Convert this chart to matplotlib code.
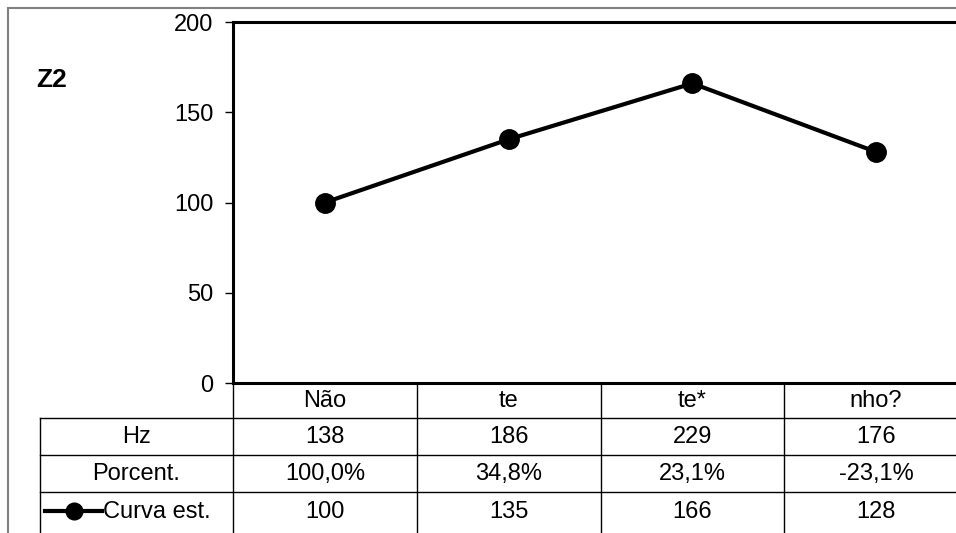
import matplotlib.pyplot as plt
from matplotlib.lines import Line2D
from matplotlib.patches import Rectangle
from matplotlib.transforms import blended_transform_factory

plt.rcParams['font.family'] = ['Liberation Sans', 'DejaVu Sans']

# data
categories = ['Não', 'te', 'te*', 'nho?']
hz = ['138', '186', '229', '176']
porcent = ['100,0%', '34,8%', '23,1%', '-23,1%']
curva = [100, 135, 166, 128]
row_labels = ['Hz', 'Porcent.', 'Curva est.']

W, H = 956, 533
FS = 17
fig = plt.figure(figsize=(W / 100, H / 100), dpi=100)


def fy(y):
    # pixel from top -> figure fraction
    return 1 - y / H


def fx(x):
    return x / W


# outer chart border
fig.add_artist(Rectangle((fx(8), fy(560)), fx(1000), fy(8) - fy(560),
                         transform=fig.transFigure, fill=False,
                         edgecolor='#808080', linewidth=1.5))

ax = fig.add_axes([fx(233), fy(383), fx(968 - 233), fy(22) - fy(383)])
x = range(len(categories))
ax.plot(x, curva, color='black', linewidth=3, marker='o', markersize=14,
        clip_on=False, zorder=5)
ax.set_xlim(-0.5, len(categories) - 0.5)
ax.set_ylim(0, 200)
ax.set_yticks([0, 50, 100, 150, 200])
ax.tick_params(axis='y', direction='out', length=6, width=1, labelsize=FS, pad=8)
ax.set_xticks([])
for s in ['top', 'left', 'bottom', 'right']:
    ax.spines[s].set_linewidth(2.2)
    ax.spines[s].set_color('black')
    ax.spines[s].set_clip_on(False)

fig.text(fx(36), fy(80), 'Z2', fontsize=19, fontweight='bold', va='center', ha='left')

# data table
tr = blended_transform_factory(ax.transData, fig.transFigure)
row_lines = [418, 455, 492]
row_centers = [401, 437, 474, 512]
bounds = [i - 0.5 for i in range(len(categories) + 1)]
for b in bounds:
    fig.add_artist(Line2D([b, b], [fy(383), fy(540)], transform=tr,
                          color='black', linewidth=1))
fig.add_artist(Line2D([fx(40), fx(40)], [fy(418), fy(540)],
                      transform=fig.transFigure, color='black', linewidth=1))
for r in row_lines:
    fig.add_artist(Line2D([fx(40), fx(1000)], [fy(r), fy(r)],
                          transform=fig.transFigure, color='black', linewidth=1))

rows = [categories, hz, porcent, [str(v) for v in curva]]
for ri, vals in enumerate(rows):
    for ci, v in enumerate(vals):
        t = fig.text(0, fy(row_centers[ri]), v, fontsize=FS,
                     ha='center', va='center')
        t.set_transform(tr)
        t.set_x(ci)

label_x = (40 + 233) / 2
fig.text(fx(label_x), fy(row_centers[1]), row_labels[0], fontsize=FS, ha='center', va='center')
fig.text(fx(label_x), fy(row_centers[2]), row_labels[1], fontsize=FS, ha='center', va='center')
fig.text(fx(103), fy(row_centers[3]), row_labels[2], fontsize=FS, ha='left', va='center')

# legend key in table
fig.add_artist(Line2D([fx(45), fx(102)], [fy(511), fy(511)], transform=fig.transFigure,
                      color='black', linewidth=3))
fig.add_artist(Line2D([fx(74)], [fy(511)], transform=fig.transFigure,
                      color='black', marker='o', markersize=12, linestyle='none'))

fig.savefig('out.png', dpi=100)
